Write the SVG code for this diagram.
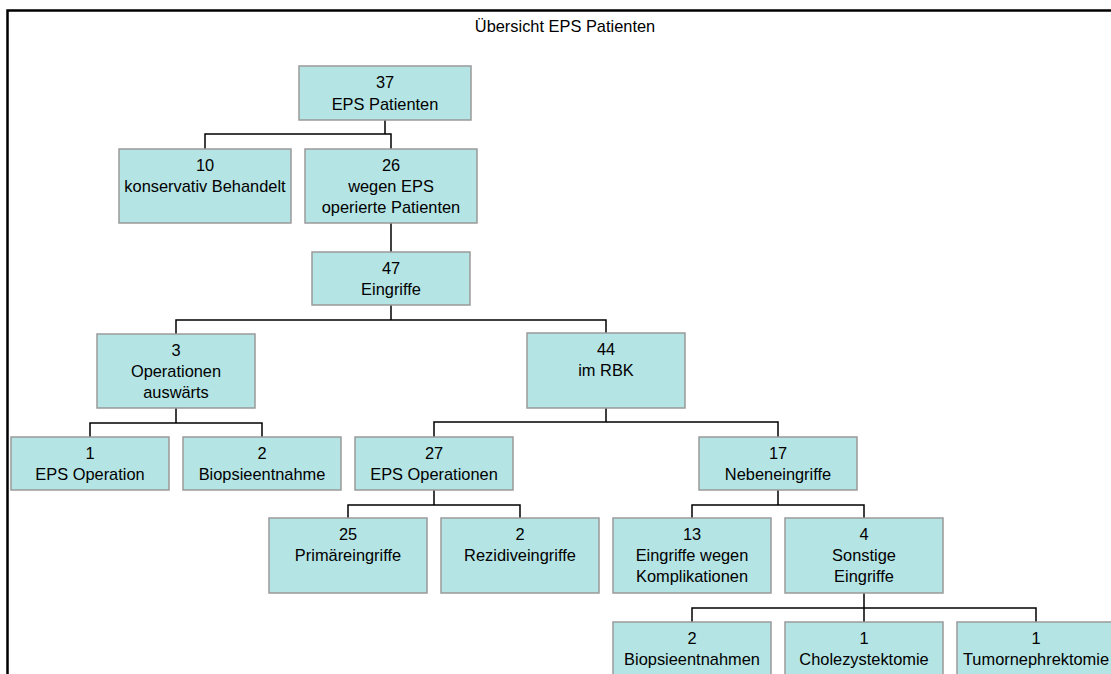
<svg xmlns="http://www.w3.org/2000/svg" width="1111" height="674" viewBox="0 0 1111 674">
<style>
.box{fill:#b4e4e4;stroke:#9a9a9a;stroke-width:1.5}
text{font-family:"Liberation Sans",Arial,sans-serif;font-size:16.4px;fill:#000;text-anchor:middle}
.c{fill:none;stroke:#000;stroke-width:1.5}
</style>
<rect x="0" y="0" width="1111" height="674" fill="#fff"/>
<rect x="7.5" y="10.5" width="1115" height="700" fill="none" stroke="#000" stroke-width="2.5"/>
<text id="title" x="565" y="32">Übersicht EPS Patienten</text>
<g id="connectors">
<path class="c" d="M385,120V134M205,149V134H391V149"/>
<path class="c" d="M391,223V252"/>
<path class="c" d="M391,305V320M176,334V320H606V333"/>
<path class="c" d="M176,408V423M90,437V423H262V437"/>
<path class="c" d="M606,408V422M434,437V422H778V437"/>
<path class="c" d="M434,490V505M348,518V505H520V518"/>
<path class="c" d="M778,490V505M692,518V505H864V518"/>
<path class="c" d="M864,593V608M692,622V608H1036V622M864,608V622"/>
</g>
<g id="n37"><rect class="box" x="299" y="66" width="172" height="54"/><text x="385" y="88">37</text><text x="385" y="110">EPS Patienten</text></g>
<g id="n10"><rect class="box" x="119" y="149" width="172" height="74"/><text x="205" y="171">10</text><text x="205" y="192">konservativ Behandelt</text></g>
<g id="n26"><rect class="box" x="305" y="149" width="172" height="74"/><text x="391" y="171">26</text><text x="391" y="192">wegen EPS</text><text x="391" y="213">operierte Patienten</text></g>
<g id="n47"><rect class="box" x="312" y="252" width="158" height="53"/><text x="391" y="274">47</text><text x="391" y="295">Eingriffe</text></g>
<g id="n3"><rect class="box" x="97" y="334" width="158" height="74"/><text x="176" y="356">3</text><text x="176" y="377">Operationen</text><text x="176" y="398">auswärts</text></g>
<g id="n44"><rect class="box" x="527" y="333" width="158" height="75"/><text x="606" y="355">44</text><text x="606" y="376">im RBK</text></g>
<g id="n1"><rect class="box" x="11" y="437" width="158" height="53"/><text x="90" y="459">1</text><text x="90" y="480">EPS Operation</text></g>
<g id="n2b"><rect class="box" x="183" y="437" width="158" height="53"/><text x="262" y="459">2</text><text x="262" y="480">Biopsieentnahme</text></g>
<g id="n27"><rect class="box" x="355" y="437" width="158" height="53"/><text x="434" y="459">27</text><text x="434" y="480">EPS Operationen</text></g>
<g id="n17"><rect class="box" x="699" y="437" width="158" height="53"/><text x="778" y="459">17</text><text x="778" y="480">Nebeneingriffe</text></g>
<g id="n25"><rect class="box" x="269" y="518" width="158" height="75"/><text x="348" y="540">25</text><text x="348" y="561">Primäreingriffe</text></g>
<g id="n2r"><rect class="box" x="441" y="518" width="158" height="75"/><text x="520" y="540">2</text><text x="520" y="561">Rezidiveingriffe</text></g>
<g id="n13"><rect class="box" x="613" y="518" width="158" height="75"/><text x="692" y="540">13</text><text x="692" y="561">Eingriffe wegen</text><text x="692" y="582">Komplikationen</text></g>
<g id="n4"><rect class="box" x="785" y="518" width="158" height="75"/><text x="864" y="540">4</text><text x="864" y="561">Sonstige</text><text x="864" y="582">Eingriffe</text></g>
<g id="n2bn"><rect class="box" x="613" y="622" width="158" height="75"/><text x="692" y="644">2</text><text x="692" y="665">Biopsieentnahmen</text></g>
<g id="n1c"><rect class="box" x="785" y="622" width="158" height="75"/><text x="864" y="644">1</text><text x="864" y="665">Cholezystektomie</text></g>
<g id="n1t"><rect class="box" x="957" y="622" width="158" height="75"/><text x="1036" y="644">1</text><text x="1036" y="665">Tumornephrektomie</text></g>
</svg>
